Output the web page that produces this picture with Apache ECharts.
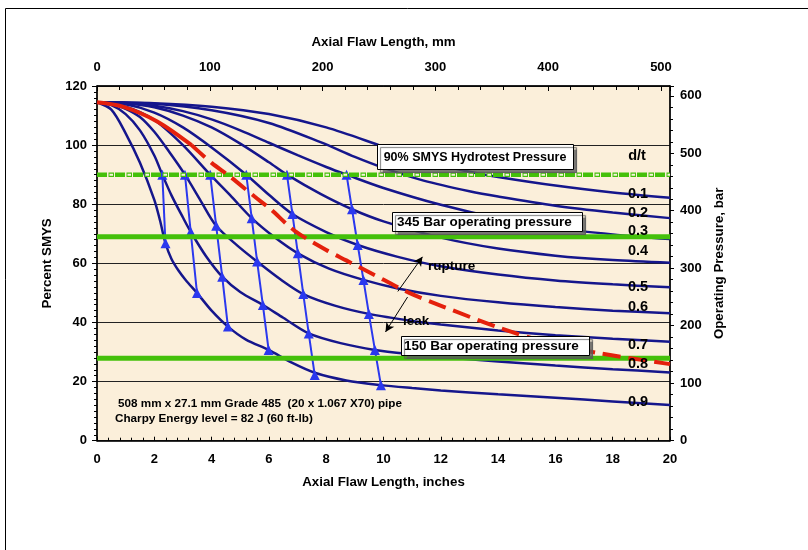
<!DOCTYPE html>
<html><head><meta charset="utf-8">
<script src="https://cdn.jsdelivr.net/npm/echarts@6/dist/echarts.min.js"></script>
<style>html,body{margin:0;padding:0;background:#fff}#c{width:808px;height:550px}</style>
</head><body><div id="c"></div>
<script>
// ---------- data (Percent SMYS vs axial flaw length, inches) ----------
const dtLabels = ['0.1','0.2','0.3','0.4','0.5','0.6','0.7','0.8','0.9'];
const dt01 = [[0,114.5],[2,114.2],[4,113],[6,110.5],[8,106],[9.84,100],[11,96],[12,93.2],[13,91],[14,89.2],[16,86.3],[18,84],[20,82.2]];
const dt02 = [[0,114.5],[2,114],[4,111.8],[6,107.5],[7.8,101],[9,96],[10,92.3],[11.4,88],[13,84.4],[14,82.6],[16,79.5],[18,77.2],[20,75.3]];
const dt03 = [[0,114.5],[1,114.3],[2,113.3],[3,111.5],[4,108.7],[5,105],[6,100.8],[7,96.6],[8,92.6],[8.71,90],[10,85.5],[12,79.8],[14,75.3],[16,72],[18,69.8],[20,68.2]];
const dt04 = [[0,114.5],[1,114.2],[2,112.8],[3,110],[4,106],[5,100.5],[6,94.2],[6.63,90],[7.8,83.5],[8.9,78.3],[10,74.2],[12,68.7],[14,65],[16,62.6],[18,61.1],[20,60.2]];
const dt05 = [[0,114.5],[1,113.8],[2,111],[3,106],[4,99.2],[5.21,90],[6,83.2],[6.82,76.7],[8,70.6],[9.1,66.2],[10.5,62.2],[12,59],[14,56.2],[16,54.2],[18,52.9],[20,51.9]];
const dt06 = [[0,114.5],[1,113],[2,108.5],[3,100],[3.95,90],[4.7,82.5],[5.4,75.3],[6.2,68.8],[7.01,63.4],[8.1,58.2],[9.3,54.4],[10.5,51.5],[12,49],[14,46.8],[16,45.2],[18,44],[20,43.1]];
const dt07 = [[0,114.5],[0.5,114],[1,112.3],[1.5,109.5],[2,104.5],[2.5,98],[3.07,90],[3.6,81.5],[4.16,72.7],[4.9,66],[5.59,60.6],[6.4,54.6],[7.2,49.6],[8.3,45.7],[9.49,42.9],[11,40.5],[12,39.3],[14,37.3],[16,35.7],[18,34.5],[20,33.5]];
const dt08 = [[0,114.5],[0.5,113.5],[1,110.5],[1.5,105],[2,96.5],[2.28,90],[2.6,83],[3,75.5],[3.27,70.7],[3.8,62.5],[4.37,55.5],[5,50.3],[5.79,45.9],[6.5,41.6],[7.39,36.3],[8.5,33],[9.7,30.7],[11,29.2],[12,28.3],[14,26.8],[16,25.4],[18,24.2],[20,23.1]];
const dt09 = [[0,114.5],[0.5,112],[1,104],[1.5,94],[2,81.5],[2.2,74.5],[2.39,66.8],[2.6,61.5],[2.85,57.5],[3.1,54.3],[3.49,50],[4,44],[4.57,38.6],[5.2,34.2],[5.99,30.7],[6.8,26.4],[7.6,23],[8.7,20.4],[9.91,18.8],[11,17.8],[12,17],[14,15.7],[16,14.5],[18,13.3],[20,12.1]];
const curves = [dt01,dt02,dt03,dt04,dt05,dt06,dt07,dt08,dt09];

// critical (leak / rupture boundary) curve
const criticalCurve = [[0,114.5],[0.9,113],[2.1,108],[3.3,100],[4.0,94],[4.65,89.3],[5.5,82.6],[6.05,78.4],[6.9,71],[8.0,64.5],[8.7,61],[9.6,56.5],[10.9,50],[12.1,45.3],[14.1,38],[15.8,33],[17.6,29.5],[20,25.9]];
const criticalSolidUntil = 3; // index of last point in the solid first part

// arrow (flaw growth) lines
const growth1 = [[2.28,90],[2.39,66.8]];
const growth2 = [[3.07,90],[3.27,70.7],[3.49,50.0]];
const growth3 = [[3.95,90],[4.16,72.7],[4.37,55.5],[4.57,38.6]];
const growth4 = [[5.21,90],[5.40,75.3],[5.59,60.6],[5.79,45.9],[5.99,30.7]];
const growth5 = [[6.63,90],[6.82,76.7],[7.01,63.4],[7.20,49.6],[7.39,36.3],[7.60,22.2]];
const growth6 = [[8.71,90],[8.90,78.3],[9.10,66.2],[9.30,54.4],[9.49,42.9],[9.70,30.7],[9.91,18.8]];
const growthLines = [growth1,growth2,growth3,growth4,growth5,growth6];

// pressure levels in Percent SMYS
const hydrotestLevel = 90;
const op345Level = 69.0;
const op150Level = 27.9;

// axes
const inchRange = [0, 20];
const mmRange = [0, 508];
const smysRange = [0, 120];
const barRange = [0, 617];

// annotation arrows [from, to] in data units
const ruptureArrow = [[10.5,50.5],[11.36,62.2]];
const leakArrow = [[10.84,48.6],[10.07,36.8]];

// ---------- chart ----------
const FONT = 'Liberation Sans, Arial, Helvetica, sans-serif';
const BLACK = '#000';
const NAVY = '#15168C';
const BRIGHT = '#2B38EE';
const GREEN = '#44C00A';
const RED = '#E4200C';
const BG = '#FBEFDA';

const lbl = {color: BLACK, fontWeight: 'bold', fontSize: 13, fontFamily: FONT};
const nameSt = {color: BLACK, fontWeight: 'bold', fontSize: 13.3, fontFamily: FONT};

const series = [];
curves.forEach((d, i) => series.push({
  name: 'd/t ' + dtLabels[i], type: 'line', data: d, smooth: 0.3,
  symbol: 'none', lineStyle: {color: NAVY, width: 2.5}, z: 2, silent: true
}));
growthLines.forEach(d => series.push({
  type: 'line', data: d, symbol: 'triangle', symbolSize: 10,
  itemStyle: {color: BRIGHT}, lineStyle: {color: BRIGHT, width: 2}, z: 3, silent: true
}));
function level(v) { return [[inchRange[0], v], [inchRange[1], v]]; }
// hydrotest dashed (solid dashes + hollow dashes)
series.push({type:'line', data: level(hydrotestLevel), symbol:'none', z:4, silent:true,
  lineStyle:{color: GREEN, width: 4.5, type:[10,8], dashOffset:0, cap:'butt'}});
series.push({type:'line', data: level(hydrotestLevel), symbol:'none', z:4, silent:true,
  lineStyle:{color: GREEN, width: 4.5, type:[5.5,12.5], dashOffset:6.5, cap:'butt'}});
series.push({type:'line', data: level(hydrotestLevel), symbol:'none', z:4, silent:true,
  lineStyle:{color: '#F6F3E0', width: 2, type:[3.5,14.5], dashOffset:5.5, cap:'butt'}});
series.push({type:'line', data: level(op345Level), symbol:'none', z:4, silent:true,
  lineStyle:{color: GREEN, width: 5}});
series.push({type:'line', data: level(op150Level), symbol:'none', z:4, silent:true,
  lineStyle:{color: GREEN, width: 5}});
// critical curve
series.push({type:'line', data: criticalCurve.slice(0, criticalSolidUntil + 1), smooth:0.3,
  symbol:'none', z:5, silent:true, lineStyle:{color: RED, width: 4}});
series.push({type:'line', data: criticalCurve.slice(criticalSolidUntil), smooth:0.3,
  symbol:'none', z:5, silent:true, lineStyle:{color: RED, width: 4, type:[18,8], cap:'butt'}});
// annotation arrows
series.push({type:'line', data: [], z:6, silent:true,
  markLine: {silent:true, symbol:['none','arrow'], symbolSize:[7,9], animation:false,
    label:{show:false}, lineStyle:{color: BLACK, width: 1, type:'solid'},
    data: [
      [{coord: ruptureArrow[0]}, {coord: ruptureArrow[1]}],
      [{coord: leakArrow[0]}, {coord: leakArrow[1]}]
    ]}});

function txt(text, x, y, size, align) {
  return {type:'text', z:100, style:{text, x, y, font:'bold ' + size + 'px ' + FONT, fill: BLACK,
    textAlign: align || 'center', textVerticalAlign:'middle'}};
}
function box(x, y, w, h) {
  return {type:'rect', z:99, shape:{x, y, width:w, height:h},
    style:{fill:'#fff', stroke: BLACK, lineWidth:1, shadowColor:'rgba(90,90,90,0.8)', shadowOffsetX:3, shadowOffsetY:3, shadowBlur:1}};
}

const graphic = [
  {type:'rect', z:-10, shape:{x:5.5, y:8.5, width:900, height:700}, style:{fill:'none', stroke: BLACK, lineWidth:1}},
  box(377.5, 144.5, 196, 25), txt('90% SMYS Hydrotest Pressure', 475, 157.5, 12.5),
  box(392.5, 212.5, 190, 19), txt('345 Bar operating pressure', 397, 222, 13.5, 'left'),
  box(401.5, 336.5, 188, 19), txt('150 Bar operating pressure', 404, 346, 13.5, 'left'),
  txt('d/t', 637, 156, 14.5),
  txt('rupture', 428, 266.5, 13.5, 'left'),
  txt('leak', 403, 321, 13.5, 'left'),
  txt('508 mm x 27.1 mm Grade 485  (20 x 1.067 X70) pipe', 118, 404, 11.7, 'left'),
  txt('Charpy Energy level = 82 J (60 ft-lb)', 115, 418.5, 11.7, 'left')
];
const dtY = [194.3, 212.7, 231, 251, 287.3, 306.7, 345, 364, 402.3];
dtLabels.forEach((t, i) => graphic.push(txt(t, 628, dtY[i], 14.5, 'left')));

const chart = echarts.init(document.getElementById('c'), null, {renderer:'canvas'});
chart.setOption({
  animation: false,
  backgroundColor: '#fff',
  grid: {left: 97, top: 86, width: 573, height: 354.7, show: true, backgroundColor: BG, borderColor: BLACK, borderWidth: 1},
  xAxis: [
    {type:'value', position:'bottom', min: inchRange[0], max: inchRange[1], interval: 2,
     name:'Axial Flaw Length, inches', nameLocation:'middle', nameGap: 35, nameTextStyle: nameSt,
     axisLine:{show:true, onZero:false, lineStyle:{color: BLACK, width:1.5}},
     axisTick:{show:true, inside:true, length:4, lineStyle:{color: BLACK}},
     minorTick:{show:true, splitNumber:5, length:3, lineStyle:{color: BLACK}},
     splitLine:{show:false}, axisLabel:Object.assign({margin:12}, lbl)},
    {type:'value', position:'top', min: mmRange[0], max: mmRange[1], interval: 100,
     name:'Axial Flaw Length, mm', nameLocation:'middle', nameGap: 37, nameTextStyle: nameSt,
     axisLine:{show:true, onZero:false, lineStyle:{color: BLACK, width:1.5}},
     axisTick:{show:true, inside:true, length:5, lineStyle:{color: BLACK}},
     minorTick:{show:true, splitNumber:5, length:4, lineStyle:{color: BLACK}},
     splitLine:{show:false}, axisLabel:Object.assign({margin:12, showMaxLabel:false}, lbl)}
  ],
  yAxis: [
    {type:'value', position:'left', min: smysRange[0], max: smysRange[1], interval: 20,
     name:'Percent SMYS', nameLocation:'middle', nameGap: 43, nameTextStyle: nameSt,
     axisLine:{show:true, onZero:false, lineStyle:{color: BLACK, width:1.5}},
     axisTick:{show:true, length:5, lineStyle:{color: BLACK}},
     minorTick:{show:true, splitNumber:10, length:3, lineStyle:{color: BLACK}},
     splitLine:{show:true, lineStyle:{color:'#222', width:1}},
     axisLabel:Object.assign({margin:10}, lbl)},
    {type:'value', position:'right', min: barRange[0], max: barRange[1], interval: 100,
     name:'Operating Pressure, bar', nameLocation:'middle', nameGap: 40, nameTextStyle: nameSt,
     axisLine:{show:true, onZero:false, lineStyle:{color: BLACK, width:1.5}},
     axisTick:{show:true, length:4, lineStyle:{color: BLACK}},
     minorTick:{show:true, splitNumber:5, length:3, lineStyle:{color: BLACK}},
     splitLine:{show:false}, axisLabel:Object.assign({margin:10, showMaxLabel:false}, lbl)}
  ],
  series: series,
  graphic: graphic
});
</script></body></html>
